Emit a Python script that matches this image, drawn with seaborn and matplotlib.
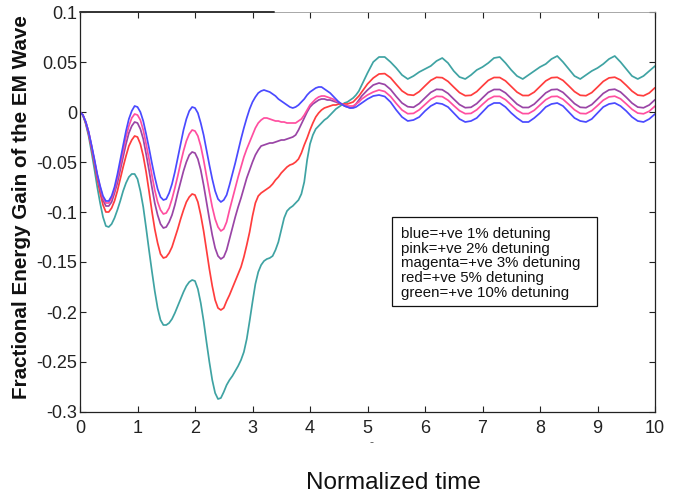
import numpy as np
import pandas as pd
import matplotlib
matplotlib.use("Agg")
import matplotlib.pyplot as plt
import seaborn as sns
from matplotlib.patches import Rectangle

# ---------------- data ----------------
# sampling: every 0.05 up to t=5, then every 0.1 up to t=10
time = np.concatenate([np.linspace(0, 5, 101), np.linspace(5.1, 10, 50)])

blue = [0.000, -0.003, -0.010, -0.020, -0.033, -0.047, -0.062, -0.074, -0.084, -0.089,
        -0.089, -0.084, -0.075, -0.0625, -0.048, -0.033, -0.019, -0.007, 0.001, 0.006,
        0.005, 0.000, -0.009, -0.022, -0.036, -0.051, -0.065, -0.077, -0.085, -0.088,
        -0.087, -0.081, -0.072, -0.060, -0.046, -0.032, -0.018, -0.007, 0.001, 0.005,
        0.004, -0.001, -0.011, -0.023, -0.038, -0.053, -0.067, -0.079, -0.087, -0.090,
        -0.088, -0.083, -0.073, -0.062, -0.051, -0.039, -0.027, -0.016, -0.006, 0.003,
        0.010, 0.015, 0.019, 0.021, 0.022, 0.021, 0.020, 0.018, 0.016, 0.013,
        0.011, 0.009, 0.007, 0.005, 0.004, 0.005, 0.007, 0.010, 0.013, 0.017,
        0.020, 0.022, 0.024, 0.025, 0.025, 0.023, 0.021, 0.019, 0.016, 0.013,
        0.010, 0.008, 0.006, 0.005, 0.004, 0.004, 0.005, 0.007, 0.009, 0.011,
        0.013,
        0.016, 0.017, 0.0155, 0.010, 0.002, -0.005, -0.009, -0.008, -0.005, 0.001,
        0.006, 0.009, 0.008, 0.005, -0.001, -0.007, -0.010, -0.009, -0.006, 0.000,
        0.006, 0.009, 0.009, 0.005, -0.001, -0.006, -0.010, -0.010, -0.006, -0.001,
        0.005, 0.008, 0.009, 0.006, 0.000, -0.006, -0.009, -0.010, -0.007, -0.001,
        0.005, 0.008, 0.009, 0.006, 0.001, -0.005, -0.009, -0.010, -0.007, -0.002]

pink = [0.000, -0.003, -0.010, -0.020, -0.034, -0.048, -0.063, -0.075, -0.086, -0.091,
        -0.091, -0.086, -0.078, -0.066, -0.053, -0.039, -0.025, -0.014, -0.006, -0.002,
        -0.003, -0.008, -0.018, -0.032, -0.047, -0.063, -0.078, -0.090, -0.098, -0.102,
        -0.101, -0.096, -0.087, -0.076, -0.064, -0.051, -0.039, -0.029, -0.022, -0.018,
        -0.019, -0.024, -0.034, -0.048, -0.064, -0.080, -0.095, -0.107, -0.115, -0.119,
        -0.117, -0.110, -0.098, -0.087, -0.076, -0.065, -0.055, -0.045, -0.037, -0.030,
        -0.023, -0.016, -0.011, -0.008, -0.006, -0.006, -0.007, -0.008, -0.009, -0.009,
        -0.010, -0.010, -0.011, -0.011, -0.011, -0.011, -0.009, -0.007, -0.003, 0.002,
        0.007, 0.010, 0.013, 0.015, 0.016, 0.016, 0.015, 0.014, 0.013, 0.011,
        0.010, 0.008, 0.007, 0.006, 0.006, 0.006, 0.008, 0.010, 0.013, 0.015,
        0.017,
        0.020, 0.022, 0.0205, 0.0156, 0.0085, 0.002, -0.0017, -0.0014, 0.0022, 0.0075,
        0.0127, 0.0157, 0.0154, 0.0118, 0.0064, 0.0013, -0.0017, -0.0014, 0.0022, 0.0076,
        0.0127, 0.0156, 0.0156, 0.0123, 0.0070, 0.0017, -0.0016, -0.0016, 0.0017, 0.0070,
        0.0123, 0.0154, 0.0157, 0.0127, 0.0076, 0.0022, -0.0014, -0.0017, 0.0013, 0.0064,
        0.0118, 0.0151, 0.0158, 0.0132, 0.0081, 0.0027, -0.0011, -0.0018, 0.0008, 0.0059]

magenta = [0.000, -0.003, -0.010, -0.020, -0.034, -0.049, -0.064, -0.077, -0.088, -0.094,
           -0.094, -0.090, -0.081, -0.071, -0.058, -0.045, -0.032, -0.021, -0.014, -0.010,
           -0.011, -0.017, -0.027, -0.042, -0.058, -0.075, -0.091, -0.103, -0.112, -0.116,
           -0.115, -0.110, -0.103, -0.093, -0.081, -0.070, -0.059, -0.050, -0.043, -0.040,
           -0.041, -0.047, -0.058, -0.073, -0.090, -0.107, -0.123, -0.136, -0.144, -0.147,
           -0.145, -0.138, -0.127, -0.116, -0.105, -0.095, -0.086, -0.076, -0.066, -0.058,
           -0.050, -0.043, -0.038, -0.034, -0.033, -0.032, -0.031, -0.031, -0.030, -0.029,
           -0.028, -0.028, -0.027, -0.026, -0.025, -0.023, -0.018, -0.012, -0.006, 0.000,
           0.005, 0.008, 0.010, 0.012, 0.013, 0.013, 0.012, 0.012, 0.011, 0.010,
           0.009, 0.008, 0.006, 0.005, 0.004, 0.005, 0.008, 0.012, 0.016, 0.019,
           0.022,
           0.027, 0.029, 0.0275, 0.0226, 0.0155, 0.0090, 0.0053, 0.0047, 0.0084, 0.0141,
           0.0196, 0.0227, 0.0223, 0.0186, 0.0129, 0.0074, 0.0043, 0.0047, 0.0084, 0.0141,
           0.0196, 0.0225, 0.0225, 0.0191, 0.0135, 0.0079, 0.0045, 0.0045, 0.0079, 0.0135,
           0.0191, 0.0223, 0.0227, 0.0196, 0.0141, 0.0084, 0.0047, 0.0043, 0.0074, 0.0129,
           0.0186, 0.0221, 0.0228, 0.0200, 0.0147, 0.0089, 0.0049, 0.0042, 0.0070, 0.0123]

red = [0.000, -0.003, -0.011, -0.022, -0.036, -0.051, -0.067, -0.081, -0.093, -0.100,
       -0.100, -0.096, -0.089, -0.079, -0.067, -0.055, -0.044, -0.034, -0.028, -0.024,
       -0.025, -0.032, -0.044, -0.060, -0.079, -0.099, -0.117, -0.131, -0.142, -0.146,
       -0.145, -0.141, -0.135, -0.126, -0.117, -0.107, -0.098, -0.090, -0.085, -0.082,
       -0.083, -0.090, -0.103, -0.119, -0.138, -0.157, -0.174, -0.188, -0.196, -0.198,
       -0.196, -0.189, -0.183, -0.176, -0.169, -0.162, -0.155, -0.145, -0.133, -0.120,
       -0.104, -0.091, -0.084, -0.081, -0.079, -0.077, -0.075, -0.072, -0.068, -0.065,
       -0.061, -0.058, -0.055, -0.053, -0.052, -0.050, -0.047, -0.041, -0.033, -0.026,
       -0.018, -0.011, -0.005, -0.001, 0.002, 0.004, 0.005, 0.006, 0.007, 0.007,
       0.008, 0.008, 0.008, 0.008, 0.009, 0.010, 0.013, 0.016, 0.020, 0.024,
       0.028,
       0.034, 0.038, 0.0384, 0.0343, 0.0276, 0.0211, 0.0174, 0.0167, 0.0204, 0.0261,
       0.0316, 0.0347, 0.0343, 0.0306, 0.0249, 0.0194, 0.0163, 0.0167, 0.0204, 0.0261,
       0.0316, 0.0345, 0.0345, 0.0311, 0.0255, 0.0199, 0.0165, 0.0165, 0.0199, 0.0255,
       0.0311, 0.0343, 0.0347, 0.0316, 0.0261, 0.0204, 0.0167, 0.0163, 0.0194, 0.0249,
       0.0306, 0.0341, 0.0348, 0.0320, 0.0267, 0.0209, 0.0169, 0.0162, 0.0190, 0.0243]

green = [0.000, -0.003, -0.012, -0.024, -0.040, -0.057, -0.075, -0.091, -0.105, -0.114,
         -0.115, -0.112, -0.106, -0.098, -0.089, -0.079, -0.071, -0.065, -0.062, -0.062,
         -0.067, -0.079, -0.095, -0.116, -0.138, -0.159, -0.179, -0.196, -0.208, -0.213,
         -0.213, -0.211, -0.207, -0.201, -0.194, -0.187, -0.180, -0.174, -0.170, -0.168,
         -0.169, -0.177, -0.191, -0.209, -0.230, -0.250, -0.268, -0.281, -0.287, -0.286,
         -0.280, -0.273, -0.268, -0.264, -0.259, -0.254, -0.248, -0.240, -0.227, -0.209,
         -0.190, -0.172, -0.160, -0.153, -0.149, -0.147, -0.146, -0.144, -0.138, -0.130,
         -0.118, -0.106, -0.099, -0.096, -0.094, -0.091, -0.088, -0.082, -0.070, -0.048,
         -0.032, -0.023, -0.017, -0.014, -0.011, -0.008, -0.006, -0.003, 0.000, 0.003,
         0.005, 0.007, 0.009, 0.010, 0.012, 0.014, 0.017, 0.021, 0.027, 0.033,
         0.039,
         0.050, 0.055, 0.055, 0.050, 0.044, 0.037, 0.033, 0.036, 0.040, 0.043,
         0.046, 0.051, 0.054, 0.049, 0.041, 0.035, 0.033, 0.037, 0.042, 0.045,
         0.049, 0.054, 0.055, 0.049, 0.042, 0.036, 0.033, 0.037, 0.041, 0.045,
         0.048, 0.053, 0.056, 0.050, 0.043, 0.036, 0.033, 0.037, 0.041, 0.044,
         0.048, 0.053, 0.056, 0.050, 0.043, 0.036, 0.033, 0.036, 0.041, 0.046]

series_names = ["green", "red", "magenta", "pink", "blue"]
series_values = {"blue": blue, "pink": pink, "magenta": magenta, "red": red, "green": green}

legend_lines = ["blue=+ve 1% detuning",
                "pink=+ve 2% detuning",
                "magenta=+ve 3% detuning",
                "red=+ve 5% detuning",
                "green=+ve 10% detuning"]

x_ticks = [0, 1, 2, 3, 4, 5, 6, 7, 8, 9, 10]
y_ticks = [0.1, 0.05, 0, -0.05, -0.1, -0.15, -0.2, -0.25, -0.3]
y_tick_labels = ["0.1", "0.05", "0", "-0.05", "-0.1", "-0.15", "-0.2", "-0.25", "-0.3"]

x_label = "Normalized time"
y_label = "Fractional Energy Gain of the EM Wave"

# ---------------- styling ----------------
palette = {"blue": "#4a4aff", "pink": "#ff4fa0", "magenta": "#9a45a6",
           "red": "#ff3d3d", "green": "#3fa3a3"}

sns.set_theme(style="white")
plt.rcParams["font.family"] = ["Liberation Sans", "DejaVu Sans"]

rows = []
for name in series_names:
    for t, v in zip(time, series_values[name]):
        rows.append((name, t, v))
df = pd.DataFrame(rows, columns=["series", "time", "gain"])

fig = plt.figure(figsize=(6.75, 4.96), dpi=100)
ax = fig.add_axes([80 / 675, 1 - 412 / 496, 575 / 675, 400 / 496])

sns.lineplot(data=df, x="time", y="gain", hue="series", hue_order=series_names,
             palette=palette, estimator=None, sort=False, legend=False,
             linewidth=1.25, ax=ax)

ax.set_xlim(0, 10)
ax.set_ylim(-0.3, 0.1)
ax.set_xticks(x_ticks)
ax.set_xticklabels([str(v) for v in x_ticks])
ax.set_yticks(y_ticks)
ax.set_yticklabels(y_tick_labels)
ax.tick_params(direction="in", length=4, width=0.8, top=True, right=True,
               bottom=True, left=True, labelsize=13, colors="#222222")
ax.tick_params(axis="x", pad=6)
ax.tick_params(axis="y", pad=2)
for sp in ax.spines.values():
    sp.set_color("#222222")
    sp.set_linewidth(0.9)
# top border: dark on the left third, faint beyond (as in the scanned original)
ax.spines["top"].set_color("#9a9a9a")
ax.spines["top"].set_linewidth(0.6)
ax.plot([0, 0.337], [1, 1], transform=ax.transAxes, color="#333333",
        linewidth=1.4, clip_on=False, zorder=7)

ax.set_xlabel(x_label, fontsize=17.5, color="#111111")
ax.xaxis.set_label_coords((393 - 80) / 575, (412 - 483) / 400)
ax.xaxis.label.set_va("center")
ax.set_ylabel(y_label, fontsize=14.9, fontweight="bold", color="#111111")
ax.yaxis.set_label_coords((22 - 80) / 575, (412 - 207) / 400)
ax.yaxis.label.set_va("center")

# text box describing the series
ax.add_patch(Rectangle((0.543, 0.265), 0.356, 0.2225, transform=ax.transAxes,
                       facecolor="white", edgecolor="#111111", linewidth=0.9, zorder=5))
for i, line in enumerate(legend_lines):
    ax.text(0.558, 0.445 - i * 0.0368, line, transform=ax.transAxes,
            fontsize=10.8, color="#111111", va="center", ha="left", zorder=6)

fig.text(372 / 675, 1 - 443 / 496, "-", fontsize=9, color="#555555", ha="center", va="center")

fig.savefig("out.png", dpi=100, facecolor="white")
